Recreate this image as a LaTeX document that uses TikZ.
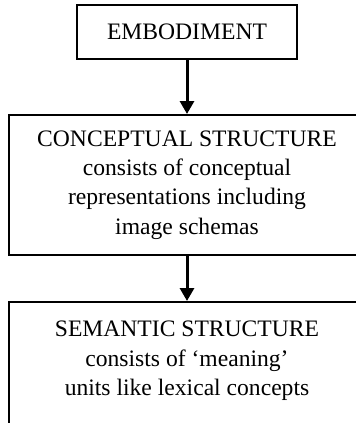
\documentclass[tikz,border=0pt]{standalone}
\usepackage{fontspec}
\setmainfont{Liberation Serif}
\usetikzlibrary{arrows.meta, positioning}

\begin{document}
\begin{tikzpicture}[
    font=\fontsize{11.8pt}{14.7pt}\selectfont,
    stage/.style={
      draw=black,
      line width=1pt,
      fill=white,
      align=center,
      inner sep=0pt,
    },
    flow/.style={
      line width=1.5pt,
      -{Triangle[width=7pt,length=6.5pt]},
    },
  ]
    \useasboundingbox (0pt,0pt) rectangle (177.5pt,-211.5pt);
    \node[stage, minimum width=110pt, minimum height=27pt]
      (embodiment) at (93.5pt,-16pt) {EMBODIMENT};
    \node[stage, minimum width=178pt, minimum height=70pt,
      below=27pt of embodiment] (conceptual) {%
      CONCEPTUAL STRUCTURE\\
      consists of conceptual\\
      representations including\\
      image schemas};
    \node[stage, minimum width=178pt, minimum height=70pt,
      below=22.5pt of conceptual] (semantic) {%
      SEMANTIC STRUCTURE\\
      consists of ‘meaning’\\
      units like lexical concepts\\[-1pt]\mbox{}};
    \draw[flow] (embodiment) -- (conceptual);
    \draw[flow] (conceptual) -- (semantic);
  \end{tikzpicture}
\end{document}
